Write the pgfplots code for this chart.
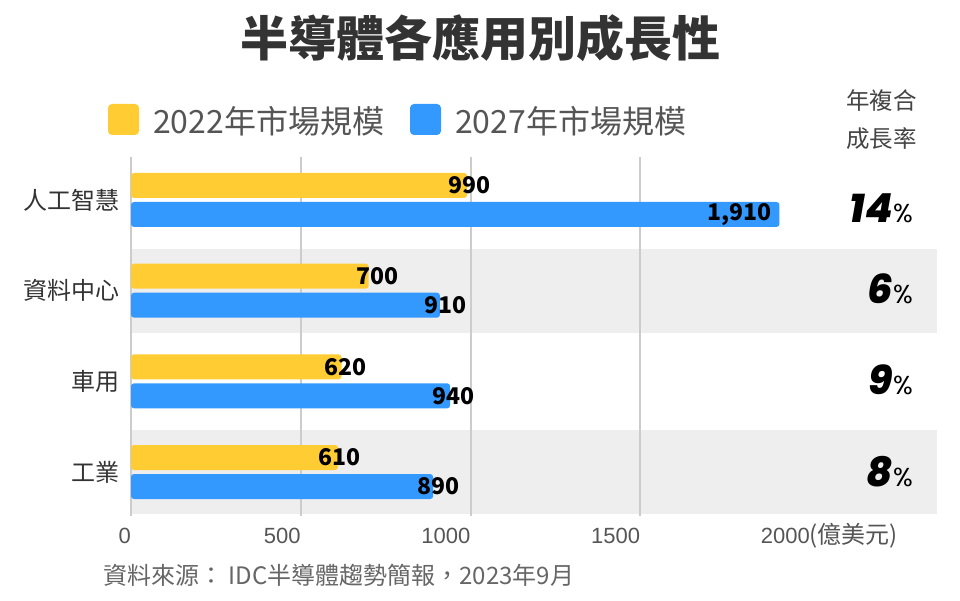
\documentclass[border=0pt]{standalone}
\usepackage{pgfplots}
\pgfplotsset{compat=1.18}
\usepackage{fontspec}
\setmainfont{Noto Sans CJK TC}
\newfontfamily\titlef{Noto Sans CJK TC}[UprightFont=* Black]
\newfontfamily\arialf{Liberation Sans}
\newfontfamily\popf{Poppins}
\newfontfamily\popx{Poppins}[UprightFont=* ExtraBold Italic]
\definecolor{cyel}{HTML}{FFCC33}
\definecolor{cblu}{HTML}{3399FF}
\definecolor{bandc}{HTML}{EEEEEE}
\definecolor{gridc}{HTML}{CCCCCC}
\definecolor{tthree}{HTML}{333333}
\definecolor{tfour}{HTML}{444444}
\definecolor{tfive}{HTML}{555555}
\definecolor{tsix}{HTML}{666666}
\newcommand{\fs}[1]{\fontsize{#1}{#1}\selectfont}
\begin{document}
\begin{tikzpicture}[x=1pt,y=1pt]
\begin{axis}[
  set layers,
  at={(131pt,84pt)}, anchor=south west,
  scale only axis, width=806pt, height=359pt,
  xmin=0, xmax=2374, ymin=-0.485, ymax=3.474,
  xbar, bar width=25pt,
  axis line style={draw=none},
  tick style={draw=none},
  clip=false,
  ytick={0,1,2,3}, yticklabels={工業,車用,資料中心,人工智慧},
  yticklabel style={font=\fs{24}, text=tthree, anchor=east, inner sep=0pt, xshift=-7pt},
  xtick={0,500,1000,1500},
  xticklabels={0,500,1000,1500},
  xmajorgrids=true,
  major grid style={draw=gridc, line width=2pt},
  xticklabel style={font=\arialf\fs{22}, text=tfive, anchor=base east, inner sep=0pt, yshift=-27pt},
  extra x ticks={2000},
  extra x tick labels={{2000\rlap{\rmfamily\fs{24}(億美元)}}},
  extra x tick style={xmajorgrids=false},
]
\begin{pgfonlayer}{axis background}
\fill[bandc] (axis cs:0,1.537) rectangle (axis cs:2374,2.463);
\fill[bandc] (axis cs:0,-0.463) rectangle (axis cs:2374,0.463);
\end{pgfonlayer}
\addplot[fill=cyel, draw=none, rounded corners=3pt, bar shift=14.5pt] coordinates {(990,3) (700,2) (620,1) (610,0)};
\addplot[fill=cblu, draw=none, rounded corners=3pt, bar shift=-14.5pt] coordinates {(1910,3) (910,2) (940,1) (890,0)};
\begin{scope}[every node/.style={font=\bfseries\fs{23}, text=black, inner sep=0pt}]
\node[yshift=14.5pt, xshift=2pt] at (axis cs:990,3) {990};
\node[yshift=14.5pt, xshift=9pt] at (axis cs:700,2) {700};
\node[yshift=14.5pt, xshift=4pt] at (axis cs:620,1) {620};
\node[yshift=14.5pt, xshift=1pt] at (axis cs:610,0) {610};
\node[yshift=-14.5pt, xshift=-8pt, anchor=east] at (axis cs:1910,3) {1,910};
\node[yshift=-14.5pt, xshift=6pt] at (axis cs:910,2) {910};
\node[yshift=-14.5pt, xshift=3pt] at (axis cs:940,1) {940};
\node[yshift=-14.5pt, xshift=5pt] at (axis cs:890,0) {890};
\end{scope}
\end{axis}
% title
\node[text=tthree] at (480,561.5) {\titlef\fs{48}半導體各應用別成長性};
% legend
\fill[cyel, rounded corners=4pt] (108,465) rectangle (139,496);
\node[anchor=west, inner sep=0pt, text=tfive] at (153,479) {\fs{32}2022年市場規模};
\fill[cblu, rounded corners=4pt] (410,465) rectangle (441,496);
\node[anchor=west, inner sep=0pt, text=tfive] at (455,479) {\fs{32}2027年市場規模};
% CAGR header
\node[anchor=east, inner sep=0pt, text=tfour] at (917,499) {\fs{23.5}年複合};
\node[anchor=east, inner sep=0pt, text=tfour] at (917,461) {\fs{23.5}成長率};
% CAGR values
\begin{scope}[every node/.style={anchor=base east, inner sep=0pt, text=black}]
\node at (913,377) {{\popx\fs{40}14}{\popf\fs{26}\%}};
\node at (913,296) {{\popx\fs{40}6}{\popf\fs{26}\%}};
\node at (913,206) {{\popx\fs{40}9}{\popf\fs{26}\%}};
\node at (913,114) {{\popx\fs{40}8}{\popf\fs{26}\%}};
\end{scope}
% source
\node[anchor=west, inner sep=0pt, text=tsix] at (103,25) {\fs{24}資料來源： IDC半導體趨勢簡報，2023年9月};
\path[use as bounding box] (0,0) rectangle (960,600);
\end{tikzpicture}
\end{document}
